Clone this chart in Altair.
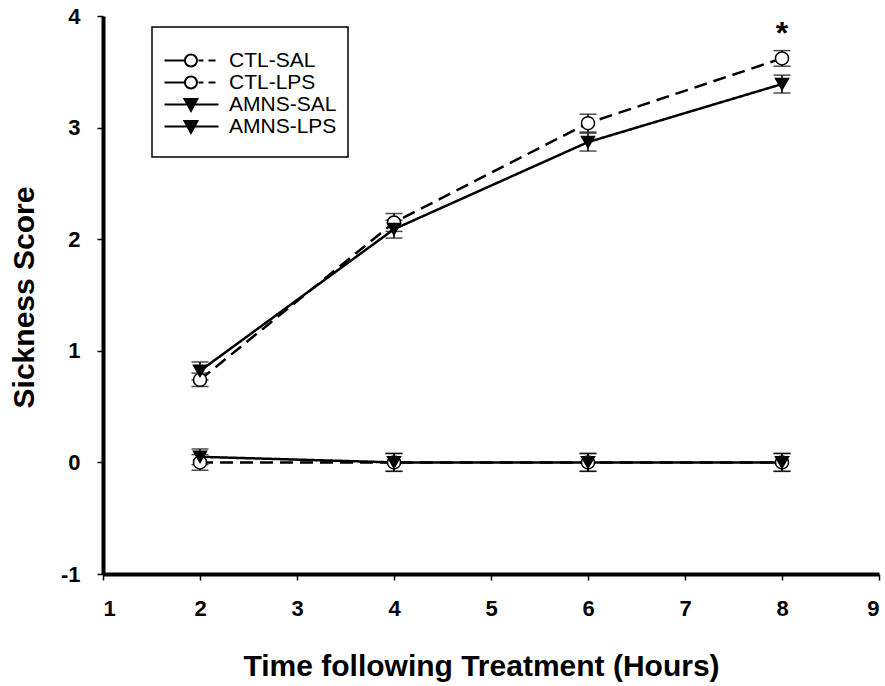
import altair as alt
import pandas as pd

# ---- data ----
hours = [2, 4, 6, 8]
groups = ["CTL-SAL", "CTL-LPS", "AMNS-SAL", "AMNS-LPS"]
ctl_sal = [0.0, 0.0, 0.0, 0.0]
ctl_sal_err = [0.07, 0.08, 0.08, 0.08]
ctl_lps = [0.74, 2.15, 3.04, 3.62]
ctl_lps_err = [0.06, 0.08, 0.08, 0.07]
amns_sal = [0.05, 0.0, 0.0, 0.0]
amns_sal_err = [0.07, 0.08, 0.08, 0.08]
amns_lps = [0.82, 2.09, 2.87, 3.39]
amns_lps_err = [0.08, 0.08, 0.08, 0.08]
star_hours = [8]
star_score = [3.84]
star_text = ["*"]
x_ticks = [1, 2, 3, 4, 5, 6, 7, 8, 9]
y_ticks = [-1, 0, 1, 2, 3, 4]

series = {
    "CTL-SAL": (ctl_sal, ctl_sal_err),
    "CTL-LPS": (ctl_lps, ctl_lps_err),
    "AMNS-SAL": (amns_sal, amns_sal_err),
    "AMNS-LPS": (amns_lps, amns_lps_err),
}
rows = []
for g in groups:
    vals, errs = series[g]
    for h, v, e in zip(hours, vals, errs):
        rows.append({"group": g, "hour": h, "score": v, "lo": v - e, "hi": v + e})
df = pd.DataFrame(rows)
star_df = pd.DataFrame({"hour": star_hours, "score": star_score, "txt": star_text})

FONT = "Liberation Sans"

x_enc = alt.X("hour:Q", scale=alt.Scale(domain=[1, 9], nice=False, zero=False),
              axis=alt.Axis(values=x_ticks, title="Time following Treatment (Hours)",
                            titleX=378, titleY=101, titleBaseline="alphabetic",
                            titleAlign="center", labelPadding=18, labelExpr="'' + datum.value"))
y_scale = alt.Scale(domain=[-1, 4], nice=False, zero=False)
y_axis = alt.Axis(values=y_ticks, title="Sickness Score", titleX=-70, titleY=281,
                  titleAngle=-90, titleBaseline="alphabetic", titleAlign="center",
                  labelPadding=17, labelExpr="'' + datum.value")

dash_scale = alt.Scale(domain=groups, range=[[13, 7], [13, 7], [1, 0], [1, 0]])
shape_scale = alt.Scale(domain=groups, range=["circle", "circle", "triangle-down", "triangle-down"])
fill_scale = alt.Scale(domain=groups, range=["white", "white", "black", "black"])
stroke_scale = alt.Scale(domain=groups, range=["black", "black", "black", "black"])
size_scale = alt.Scale(domain=groups, range=[169, 169, 200, 200])

# legend glyphs: line + marker; the last one carries a zero-length segment
# that only pads the legend box at the bottom
ctl_sym = ("M-1,0L1.27,0M2.78,0L3.33,0M3.89,0L4.67,0"
           "M1.27,0A0.667,0.667,0,1,0,2.61,0A0.667,0.667,0,1,0,1.27,0Z")
amns_sym = "M-1,0L5,0M1.22,-0.61L2.66,-0.61L1.94,0.72Z"
amns_sym_last = amns_sym + "M1.94,1.67L1.94,1.67"
legend_shape_scale = alt.Scale(domain=groups, range=[ctl_sym, ctl_sym, amns_sym, amns_sym_last])


def make_legend():
    return alt.Legend(title=" ", titleFontSize=10, titlePadding=2,
                      orient="none", legendX=49, legendY=11,
                      symbolSize=324, symbolStrokeWidth=2, symbolStrokeColor="black",
                      symbolOpacity=1, labelOffset=45, rowPadding=0, padding=11,
                      labelFont=FONT, labelFontSize=21, labelColor="black",
                      labelLimit=300, fillColor="white", strokeColor="black")


base = alt.Chart(df)

lines = base.mark_line(color="black", strokeWidth=2.5).encode(
    x=x_enc,
    y=alt.Y("score:Q", scale=y_scale, axis=y_axis),
    detail="group:N",
    strokeDash=alt.StrokeDash("group:N", scale=dash_scale, legend=None),
)

err_rules = base.mark_rule(color="black", strokeWidth=1.5).encode(
    x="hour:Q", y="lo:Q", y2="hi:Q")

err_caps = base.transform_fold(["lo", "hi"], as_=["end", "yv"]).mark_tick(
    orient="horizontal", size=17, thickness=1.5, color="black").encode(
    x="hour:Q", y="yv:Q")

points = base.mark_point(filled=True, stroke="black", strokeWidth=1.5, opacity=1).encode(
    x="hour:Q", y="score:Q",
    shape=alt.Shape("group:N", scale=shape_scale, legend=None),
    fill=alt.Fill("group:N", scale=fill_scale, legend=None),
    size=alt.Size("group:N", scale=size_scale, legend=None),
)

legend_layer = base.transform_filter("false").mark_point(
    filled=True, strokeWidth=2, opacity=1).encode(
    x="hour:Q", y="score:Q",
    shape=alt.Shape("group:N", scale=legend_shape_scale, legend=make_legend()),
    fill=alt.Fill("group:N", scale=fill_scale, legend=make_legend()),
    stroke=alt.Stroke("group:N", scale=stroke_scale, legend=make_legend()),
)

star = alt.Chart(star_df).mark_text(font=FONT, fontSize=32, fontWeight="bold",
                                    color="black", baseline="middle", align="center").encode(
    x="hour:Q", y="score:Q", text="txt:N")

chart = alt.layer(lines, err_rules, err_caps, points, legend_layer, star).resolve_scale(
    shape="independent", fill="independent", size="independent",
    strokeDash="independent", stroke="independent"
).properties(
    width=776, height=558,
    padding={"left": 103, "top": 16, "right": 6, "bottom": 112},
    autosize=alt.AutoSizeParams(type="none"),
    background="white",
).configure_view(stroke=None).configure_axis(
    grid=False, domainColor="black", domainWidth=4, tickColor="black", tickWidth=1.5,
    tickSize=6, labelFont=FONT, labelFontSize=22, labelFontWeight="bold", labelColor="black",
    titleFont=FONT, titleFontSize=30, titleFontWeight="bold", titleColor="black",
).configure_legend(strokeColor="black", strokeWidth=1.5, padding=11)

chart.save("out.html", embed_options={"renderer": "svg", "actions": False})
